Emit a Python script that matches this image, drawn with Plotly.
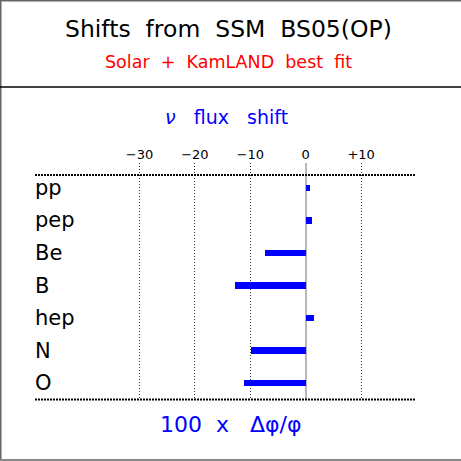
import plotly.graph_objects as go

# ---- data ----
categories = ["pp", "pep", "Be", "B", "hep", "N", "O"]
shift_values = [0.8, 1.2, -7.35, -12.75, 1.45, -9.9, -11.1]
tick_values = [-30, -20, -10, 0, 10]
tick_labels = ["\u221230", "\u221220", "\u221210", "0", "+10"]

W = H = 461
FONT = "DejaVu Sans"
BLUE = "#0000ff"
SP = "\u00a0\u00a0"
SP3 = "\u00a0\u00a0\u00a0"

def px(x):
    return x / W

def py(y):
    return 1 - y / H

fig = go.Figure()
fig.add_trace(go.Bar(
    x=shift_values, y=categories, orientation="h",
    marker=dict(color=BLUE, line=dict(width=0)),
    width=0.215, showlegend=False, hoverinfo="x+y",
))

x_left, x_right = 35, 416
zero_px, px_per_unit = 305.7, 5.54
y_top, y_bot = 163, 400
cat_top, cat_step = 188, 32.5

fig.update_layout(
    width=W, height=H,
    margin=dict(l=0, r=0, t=0, b=0),
    paper_bgcolor="white", plot_bgcolor="white",
    bargap=0,
    xaxis=dict(
        domain=[px(x_left), px(x_right)],
        range=[(x_left - zero_px) / px_per_unit, (x_right - zero_px) / px_per_unit],
        side="top", tickvals=tick_values, ticktext=tick_labels,
        ticks="", tickfont=dict(family=FONT, size=13, color="black"),
        showgrid=True, gridcolor="#333333", griddash="1px,2px", gridwidth=1,
        zeroline=True, zerolinecolor="#b8b8b8", zerolinewidth=2,
        showline=False, automargin=False, fixedrange=True,
    ),
    yaxis=dict(
        domain=[py(y_bot), py(y_top)],
        type="category", categoryorder="array", categoryarray=categories,
        range=[(y_bot - cat_top) / cat_step, (y_top - cat_top) / cat_step],
        showticklabels=False, showgrid=False, zeroline=False, showline=False,
        ticks="", automargin=False, fixedrange=True,
    ),
)

shapes = [
    dict(type="line", xref="paper", yref="paper", x0=0, x1=1, y0=py(0.5), y1=py(0.5),
         line=dict(color="#666666", width=2)),
    dict(type="line", xref="paper", yref="paper", x0=px(0.5), x1=px(0.5), y0=0, y1=1,
         line=dict(color="#666666", width=2)),
    dict(type="line", xref="paper", yref="paper", x0=0, x1=1, y0=py(460), y1=py(460),
         line=dict(color="#888888", width=2)),
    dict(type="line", xref="paper", yref="paper", x0=0, x1=1, y0=py(87), y1=py(87),
         line=dict(color="black", width=1.5)),
    dict(type="line", xref="paper", yref="paper", x0=px(x_left), x1=px(x_right),
         y0=py(175), y1=py(175), line=dict(color="black", width=2, dash="2px,1px")),
    dict(type="line", xref="paper", yref="paper", x0=px(x_left), x1=px(x_right),
         y0=py(399.5), y1=py(399.5), line=dict(color="black", width=2, dash="2px,1px")),
]
fig.update_layout(shapes=shapes)

annotations = [
    dict(text=SP.join(["Shifts", "from", "SSM", "BS05(OP)"]), x=px(228), y=py(29),
         font=dict(family=FONT, size=23.5, color="black")),
    dict(text=SP.join(["Solar", "+", "KamLAND", "best", "fit"]), x=px(228), y=py(62),
         font=dict(family=FONT, size=17.5, color="red")),
    dict(text=SP3.join(["<i>\u03bd</i>", "flux", "shift"]), x=px(226), y=py(117),
         font=dict(family=FONT, size=19, color=BLUE)),
    dict(text="100" + SP + "x" + SP3 + "\u0394\u03c6/\u03c6", x=px(230), y=py(424),
         font=dict(family=FONT, size=22, color=BLUE)),
]
for a in annotations:
    a.update(xref="paper", yref="paper", showarrow=False, xanchor="center", yanchor="middle")

for c in categories:
    annotations.append(dict(
        text=c, xref="paper", yref="y", x=px(33), y=c, xanchor="left", yanchor="middle",
        showarrow=False, font=dict(family=FONT, size=21, color="black"),
    ))
fig.update_layout(annotations=annotations)

fig.write_html("out.html", config={"displayModeBar": False},
               post_script="document.body.style.margin='0';")
